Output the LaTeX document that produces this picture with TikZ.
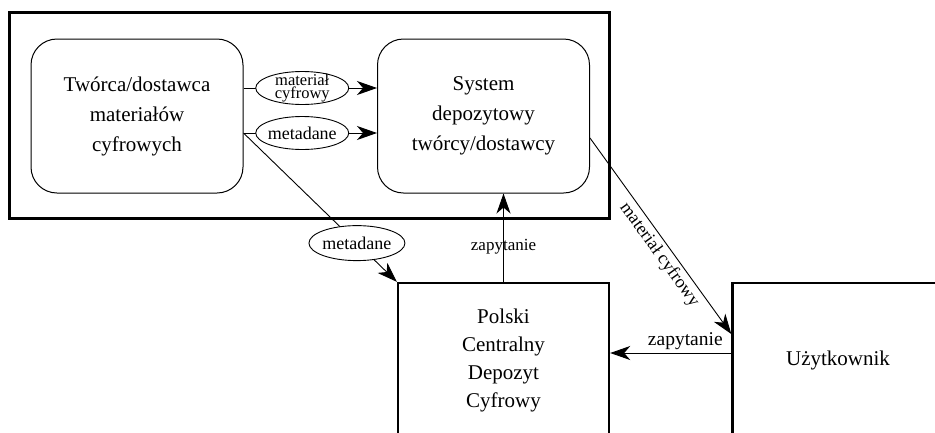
\documentclass[tikz,border=0pt]{standalone}
\usepackage{fontspec}
\setmainfont{Liberation Serif}
\usetikzlibrary{arrows.meta,shapes.geometric}
\newcommand\mainfnt{\fontsize{21}{30}\selectfont}
\newcommand\pcdfnt{\fontsize{21}{28}\selectfont}
\newcommand\lblfnt{\fontsize{18}{20}\selectfont}
\newcommand\smlfnt{\fontsize{16.5}{13}\selectfont}
\begin{document}
\begin{tikzpicture}[x=1pt,y=-1pt,
  roundbox/.style={draw, line width=1pt, rounded corners=26pt, minimum width=212pt, minimum height=154pt, align=center, font=\mainfnt},
  bigbox/.style={draw, line width=2.4pt, minimum width=211pt, minimum height=154pt, align=center, font=\mainfnt},
  oval/.style={draw, fill=white, ellipse, line width=0.9pt, inner sep=0pt, minimum width=93pt, minimum height=33pt},
  lbl/.style={font=\lblfnt},
  arr/.style={line width=0.9pt, -{Stealth[length=20pt,width=14pt,inset=6pt]}}]
\path[use as bounding box] (0,0) rectangle (935,432);
\clip (0,0) rectangle (935,432);
\node[draw, line width=3pt, minimum width=600pt, minimum height=206pt, inner sep=0pt] (frame) at (309,115) {};
\node[roundbox] (cre) at (137,116) {Twórca/dostawca\\materiałów\\cyfrowych};
\node[roundbox] (sys) at (483.5,116) {System\\depozytowy\\twórcy/dostawcy};
\node[bigbox, font=\pcdfnt] (pcd) at (503.5,360) {Polski\\Centralny\\Depozyt\\Cyfrowy};
\node[bigbox] (usr) at (838,360) {Użytkownik};
\draw[arr] ([yshift=28pt]cre.east) -- node[oval, pos=0.44, label={[font=\smlfnt, align=center]center:materiał\\cyfrowy}] (e1) {} ([yshift=28pt]sys.west);
\draw[arr] ([yshift=-17pt]cre.east) -- node[oval, pos=0.44, label={[lbl]center:metadane}] (e2) {} ([yshift=-17pt]sys.west);
\draw[arr] ([yshift=-17pt]cre.east) -- node[oval, pos=0.74, minimum width=96pt, minimum height=35pt, label={[lbl]center:metadane}] (e3) {} (pcd.north west);
\draw[arr] (pcd.north) -- node[lbl, font=\fontsize{17}{20}\selectfont, pos=0.4] (q1) {zapytanie} (pcd.north |- sys.south);
\draw[arr] ([yshift=-22pt]sys.east) -- node[lbl, sloped, below, pos=0.56] (m1) {materiał cyfrowy} ([yshift=26pt]usr.west);
\draw[arr] ([yshift=7pt]usr.west) -- node[lbl, font=\fontsize{19.5}{22}\selectfont, above, pos=0.38] (q2) {zapytanie} ([yshift=7pt]pcd.east);
\end{tikzpicture}
\end{document}
